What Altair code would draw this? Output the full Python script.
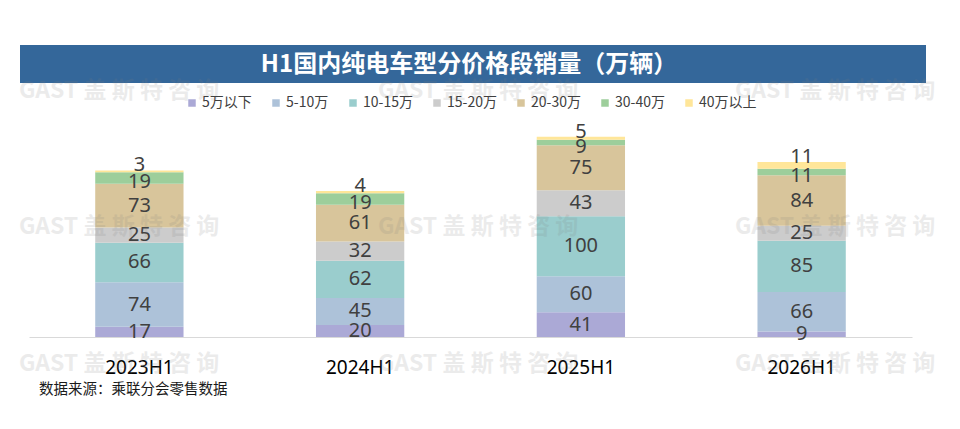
import altair as alt
import pandas as pd

periods = ["2023H1", "2024H1", "2025H1", "2026H1"]
segments = ["5万以下", "5-10万", "10-15万", "15-20万", "20-30万", "30-40万", "40万以上"]
v_under5 = [17, 20, 41, 9]
v_5_10 = [74, 45, 60, 66]
v_10_15 = [66, 62, 100, 85]
v_15_20 = [25, 32, 43, 25]
v_20_30 = [73, 61, 75, 84]
v_30_40 = [19, 19, 9, 11]
v_over40 = [3, 4, 5, 11]
colors = ["#ABA9D6", "#ADC2D9", "#9ACDCD", "#CCCCCC", "#D8C59B", "#9DCE9B", "#FFE699"]
title_text = "H1国内纯电车型分价格段销量（万辆）"
source_text = "数据来源：乘联分会零售数据"
watermark_text = "GAST 盖 斯 特 咨 询"

series = [v_under5, v_5_10, v_10_15, v_15_20, v_20_30, v_30_40, v_over40]
rows = []
for si, (seg, vals) in enumerate(zip(segments, series)):
    for p, v in zip(periods, vals):
        rows.append({"period": p, "segment": seg, "order": si, "value": v})
df = pd.DataFrame(rows)

CJK = "Noto Sans CJK SC"
yscale = alt.Scale(domain=[0, 361])
x = alt.X(
    "period:N",
    sort=periods,
    scale=alt.Scale(paddingInner=0.6, paddingOuter=0.3),
    axis=alt.Axis(
        title=None, labelAngle=0, ticks=False, domainColor="#D9D9D9",
        labelFontSize=19, labelColor="#000000", labelPadding=21,
        labelFont="Noto Sans", grid=False,
    ),
)

base = alt.Chart(df).transform_stack(
    stack="value", as_=["v0", "v1"], groupby=["period"],
    sort=[alt.SortField("order", order="ascending")],
).transform_calculate(mid="(datum.v0 + datum.v1) / 2")

bars = base.mark_bar().encode(
    x=x,
    y=alt.Y("v0:Q", scale=yscale, axis=None),
    y2="v1:Q",
    color=alt.Color(
        "segment:N",
        scale=alt.Scale(domain=segments, range=colors),
        legend=alt.Legend(
            title=None, orient="none", legendX=156, legendY=-24,
            direction="horizontal", columns=7, symbolType="square",
            symbolSize=56, symbolStrokeWidth=0, labelFontSize=14,
            labelFont=CJK, labelColor="#404040", columnPadding=17,
            labelOffset=3, padding=0,
        ),
    ),
)

lab_style = dict(fontSize=20, color="#404040", font="Noto Sans")
mid_labels = base.transform_filter("datum.order < 5").mark_text(
    baseline="middle", **lab_style
).encode(x=x, y=alt.Y("mid:Q", scale=yscale, axis=None), text="value:Q")
second_labels = base.transform_filter("datum.order == 5").mark_text(
    baseline="middle", dy=4, **lab_style
).encode(x=x, y=alt.Y("mid:Q", scale=yscale, axis=None), text="value:Q")
top_labels = base.transform_filter("datum.order == 6").mark_text(
    baseline="alphabetic", dy=1, **lab_style
).encode(x=x, y=alt.Y("v1:Q", scale=yscale, axis=None), text="value:Q")

one = pd.DataFrame({"k": [0]})
title_bar = alt.Chart(one).mark_rect(color="#34679A").encode(
    x=alt.value(-9), x2=alt.value(897), y=alt.value(-75), y2=alt.value(-37)
)
title = alt.Chart(one).mark_text(
    text=title_text, font=CJK, fontSize=24, fontWeight="bold",
    color="#FFFFFF", baseline="middle", align="center",
).encode(x=alt.value(440), y=alt.value(-55))
source = alt.Chart(one).mark_text(
    text=source_text, font=CJK, fontSize=14.5, color="#1A1A1A",
    baseline="middle", align="left",
).encode(x=alt.value(10), y=alt.value(270))

wm_layers = []
for wx in [-10, 349, 706]:
    for wy in [-29.5, 107, 243.5]:
        wm_layers.append(
            alt.Chart(one).mark_text(
                text=watermark_text, font=CJK, fontSize=23, fontWeight="bold",
                color="#7F7F7F", opacity=0.15, baseline="middle", align="left",
            ).encode(x=alt.value(wx), y=alt.value(wy))
        )

chart = alt.layer(
    title_bar, title, bars, mid_labels, second_labels, top_labels, source, *wm_layers
).properties(
    width=883, height=217,
    padding={"left": 21, "top": 112, "right": 40, "bottom": 84},
    autosize=alt.AutoSizeParams(type="none"),
    background="#FFFFFF",
).configure_view(strokeWidth=0)

chart.save("out.html", embed_options={"renderer": "svg", "actions": False})
